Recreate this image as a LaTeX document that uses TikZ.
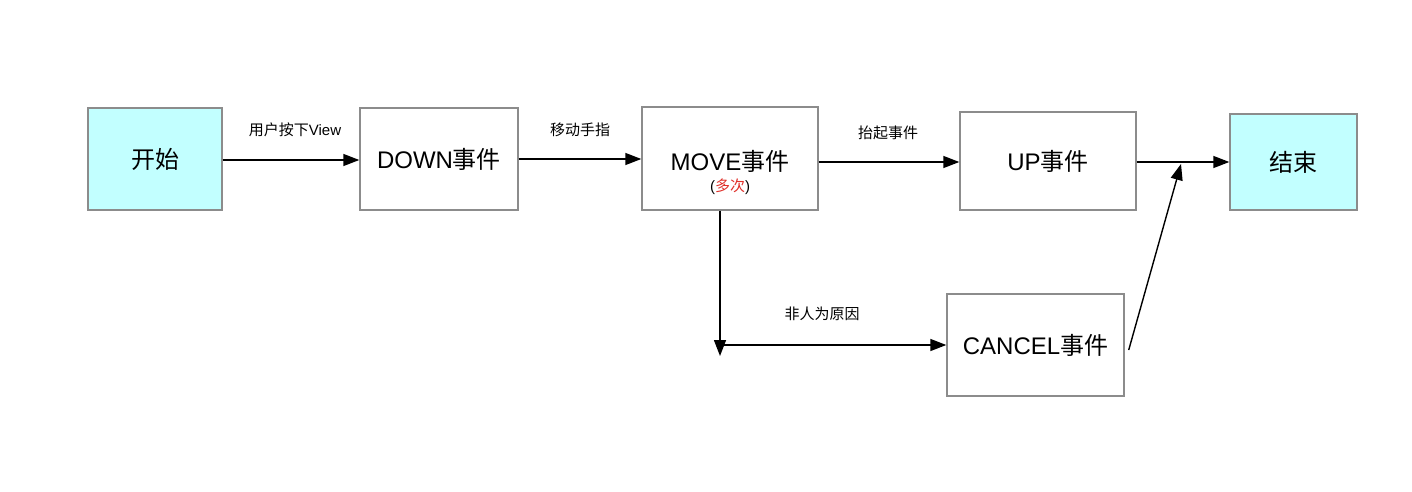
\documentclass[tikz,border=0pt]{standalone}
\usepackage{fontspec}
\setmainfont{Liberation Sans}
\newfontfamily\cjk{Noto Sans CJK SC}
\usetikzlibrary{arrows.meta}
\definecolor{boxline}{HTML}{8C8C8C}
\definecolor{startfill}{HTML}{C2FFFF}
\definecolor{notered}{HTML}{E0302A}
\tikzset{
  box/.style={draw=boxline, line width=1.4pt, fill=white, inner sep=0pt, font=\fontsize{24}{28}\selectfont},
  term/.style={box, fill=startfill},
  arr/.style={draw=black, line width=1.4pt, -{Triangle[length=16pt,width=12pt]}},
  lbl/.style={inner sep=0pt, font=\fontsize{15}{18}\selectfont},
}
\begin{document}
\begin{tikzpicture}[x=1pt,y=-1pt]
\useasboundingbox[fill=white] (0,0) rectangle (1412,492);
\node[term, minimum width=134pt, minimum height=102pt] (start) at (155,159) {\cjk 开始};
\node[box, minimum width=158pt, minimum height=102pt] (down) at (439,159) {\raisebox{-2pt}{DOWN\cjk 事件}};
\node[box, minimum width=176pt, minimum height=103pt] (move) at (730,158.5) {};
\node[inner sep=0pt, font=\fontsize{24}{28}\selectfont] (movetxt) at (730,161) {MOVE\cjk 事件};
\node[inner sep=0pt, font=\fontsize{15}{18}\selectfont] (movenote) at (730,187) {(\textcolor{notered}{\cjk 多次})};
\node[box, minimum width=176pt, minimum height=98pt] (up) at (1048,161) {UP\cjk 事件};
\node[term, minimum width=127pt, minimum height=96pt] (end) at (1293.5,162) {\cjk 结束};
\node[box, minimum width=177pt, minimum height=102pt] (cancel) at (1035.5,345) {CANCEL\cjk 事件};

\coordinate (merge) at (1181,164);
\coordinate (drop) at (720,356);
\coordinate (branch) at (722,345);

\draw[arr] (start.east |- 0,160) -- (down.west |- 0,160);
\draw[arr] (down.east |- 0,159) -- (move.west |- 0,159);
\draw[arr] (move.east |- 0,162) -- (up.west |- 0,162);
\draw[arr] (up.east |- 0,162) -- (end.west |- 0,162);
\draw[arr] ([xshift=4pt,yshift=-5pt]cancel.east) -- (merge);
\draw[arr] (move.south -| drop) -- (drop);
\draw[arr] (branch) -- (cancel.west);

\node[lbl] (l1) at (295,130) {\cjk 用户按下\normalfont View};
\node[lbl] (l2) at (580,130) {\cjk 移动手指};
\node[lbl] (l3) at (888,133) {\cjk 抬起事件};
\node[lbl] (l4) at (822,314) {\cjk 非人为原因};
\end{tikzpicture}
\end{document}
